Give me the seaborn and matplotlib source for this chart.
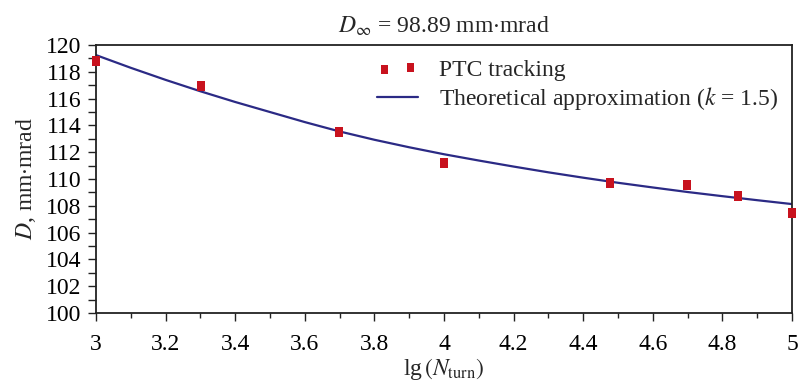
import matplotlib
matplotlib.use("Agg")
import matplotlib.pyplot as plt
import seaborn as sns
import pandas as pd
from matplotlib.ticker import MultipleLocator, FuncFormatter

# Data
lg_turns = [3.0, 3.301, 3.699, 4.0, 4.477, 4.699, 4.845, 5.0]
d_tracking = [118.8, 116.94, 113.52, 111.23, 109.7, 109.57, 108.75, 107.5]

curve_x = [3.0, 3.1, 3.2, 3.3, 3.4, 3.5, 3.6, 3.7, 3.8, 3.9, 4.0,
           4.1, 4.2, 4.3, 4.4, 4.5, 4.6, 4.7, 4.8, 4.9, 5.0]
curve_y = [119.25, 118.3, 117.4, 116.55, 115.75, 115.0, 114.25, 113.55, 112.93, 112.37, 111.85,
           111.38, 110.93, 110.5, 110.1, 109.72, 109.37, 109.03, 108.72, 108.42, 108.13]

title_text = r"$D_\infty$ = 98.89 mm$\cdot$mrad"
label_points = "PTC tracking"
label_curve = r"Theoretical approximation ($k$ = 1.5)"
xlabel = r"lg$\,(N_\mathrm{turn})$"
ylabel = r"$D$, mm$\cdot$mrad"

FS = 17

sns.set_theme(style="ticks")
plt.rcParams["font.family"] = ["Liberation Serif", "DejaVu Serif"]
plt.rcParams["mathtext.fontset"] = "stix"

fig = plt.figure(figsize=(8.0, 3.85), dpi=100)
ax = fig.add_axes([0.12, 0.187, 0.87, 0.696])

df_pts = pd.DataFrame({"x": lg_turns, "y": d_tracking})
df_curve = pd.DataFrame({"x": curve_x, "y": curve_y})

sns.lineplot(data=df_curve, x="x", y="y", ax=ax, color="#2B2A85", linewidth=1.6,
             label=label_curve, zorder=2)
rect = [(-0.8, -1), (0.8, -1), (0.8, 1), (-0.8, 1), (-0.8, -1)]
sns.scatterplot(data=df_pts, x="x", y="y", ax=ax, color="#C8121E", marker=rect,
                s=50, linewidth=0, label=label_points, zorder=3, clip_on=False)

ax.set_xlim(3, 5)
ax.set_ylim(100, 120)
ax.xaxis.set_major_locator(MultipleLocator(0.2))
ax.xaxis.set_minor_locator(MultipleLocator(0.1))
ax.yaxis.set_major_locator(MultipleLocator(2))
ax.yaxis.set_minor_locator(MultipleLocator(1))
ax.xaxis.set_major_formatter(FuncFormatter(lambda v, p: f"{v:g}"))
ax.yaxis.set_major_formatter(FuncFormatter(lambda v, p: f"{v:g}"))

ax.tick_params(axis="both", which="major", direction="out", length=6, width=1.0,
               labelsize=FS, colors="#222222", labelcolor="black")
ax.tick_params(axis="x", which="minor", direction="out", length=3.5, width=1.0, colors="#222222")
ax.tick_params(axis="y", which="minor", direction="out", length=6, width=1.0, colors="#222222")
ax.tick_params(axis="x", which="major", pad=9)
ax.tick_params(axis="y", which="major", pad=4.5)

for s in ax.spines.values():
    s.set_linewidth(1.3)
    s.set_color("#222222")

ax.set_xlabel(xlabel, fontsize=FS, labelpad=1)
ax.set_ylabel(ylabel, fontsize=FS, labelpad=6)
ax.set_title(title_text, fontsize=FS, pad=9)

handles, labels = ax.get_legend_handles_labels()
order = [labels.index(label_points), labels.index(label_curve)]
leg = ax.legend([handles[i] for i in order], [labels[i] for i in order],
                loc="upper right", frameon=False, fontsize=FS, scatterpoints=2,
                handlelength=1.7, handletextpad=0.9, labelspacing=0.2,
                borderaxespad=0.2, bbox_to_anchor=(1.0, 1.0))

fig.savefig("out.png", dpi=100)
